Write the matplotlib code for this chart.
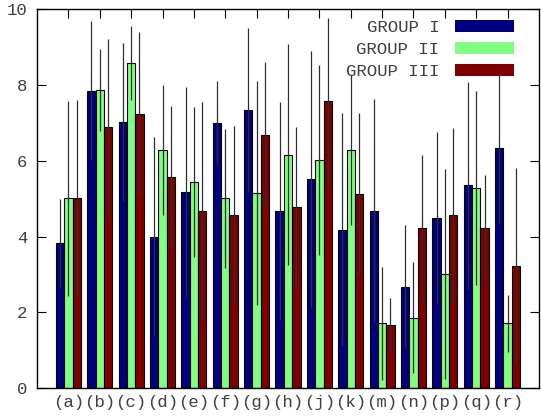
import matplotlib

matplotlib.use("Agg")

import matplotlib.pyplot as plt
import numpy as np
from matplotlib.patches import Patch

CATEGORIES = ["(a)", "(b)", "(c)", "(d)", "(e)", "(f)", "(g)", "(h)",
              "(j)", "(k)", "(m)", "(n)", "(p)", "(q)", "(r)"]
GROUP_NAMES = ["GROUP I", "GROUP II", "GROUP III"]
GROUP_COLORS = ["#000080", "#80FF80", "#800000"]

GROUP_I = [3.84, 7.85, 7.02, 4.00, 5.17, 7.01, 7.35, 4.68, 5.52, 4.18, 4.68, 2.68, 4.50, 5.35, 6.35]
GROUP_II = [5.01, 7.87, 8.59, 6.29, 5.44, 5.01, 5.15, 6.16, 6.02, 6.29, 1.71, 1.86, 3.01, 5.29, 1.71]
GROUP_III = [5.01, 6.90, 7.24, 5.57, 4.68, 4.57, 6.68, 4.79, 7.58, 5.12, 1.67, 4.23, 4.56, 4.23, 3.23]

ERR_I = [1.16, 1.84, 2.09, 2.62, 2.77, 1.10, 2.16, 2.87, 3.37, 3.07, 2.94, 1.63, 2.26, 2.72, 1.98]
ERR_II = [2.58, 1.07, 0.98, 1.71, 1.98, 1.83, 2.96, 2.91, 2.50, 1.98, 1.50, 1.46, 2.77, 2.56, 0.75]
ERR_III = [2.60, 2.32, 2.17, 1.87, 2.88, 2.34, 1.93, 2.11, 2.18, 2.15, 0.70, 1.92, 2.30, 1.40, 2.58]

MONO = "Liberation Mono"
TEXT_COLOR = "#404040"

fig = plt.figure(figsize=(5.41, 4.19), dpi=100)
ax = fig.add_axes([0.0684, 0.0733, 0.9279, 0.9047])

x = np.arange(len(CATEGORIES))
width = 0.8 / 3
series = [GROUP_I, GROUP_II, GROUP_III]
errors = [ERR_I, ERR_II, ERR_III]

for i, (vals, errs, color) in enumerate(zip(series, errors, GROUP_COLORS)):
    pos = x + (i - 1) * width
    ax.bar(pos, vals, width, color=color, edgecolor="black", linewidth=0.8, zorder=2)
    ax.errorbar(pos, vals, yerr=errs, fmt="none", ecolor="#303030",
                elinewidth=0.9, capsize=0, zorder=3)

ax.set_xlim(-1, 15)
ax.set_ylim(0, 10)
ax.set_xticks(x)
ax.set_xticklabels(CATEGORIES)
ax.set_yticks(range(0, 11, 2))

ax.tick_params(axis="both", direction="in", length=6.5, width=0.8,
               top=True, right=True, labelsize=12.5, labelcolor=TEXT_COLOR)
ax.tick_params(axis="x", pad=5)
ax.tick_params(axis="y", pad=7)
for label in ax.get_xticklabels() + ax.get_yticklabels():
    label.set_fontfamily(MONO)
for spine in ax.spines.values():
    spine.set_linewidth(1.0)

# key sits top right, text right-aligned against the colour swatches
handles = [Patch(facecolor=c, edgecolor="none") for c in GROUP_COLORS]
leg = ax.legend(handles, GROUP_NAMES, loc="upper right", bbox_to_anchor=(0.981, 1.013),
                frameon=False, markerfirst=False, handlelength=3.4, handleheight=0.7,
                handletextpad=0.9, labelspacing=0.4,
                prop={"family": MONO, "size": 12.5})
for t in leg.get_texts():
    t.set_color(TEXT_COLOR)

fig.savefig("out.png", dpi=100)
plt.close(fig)
